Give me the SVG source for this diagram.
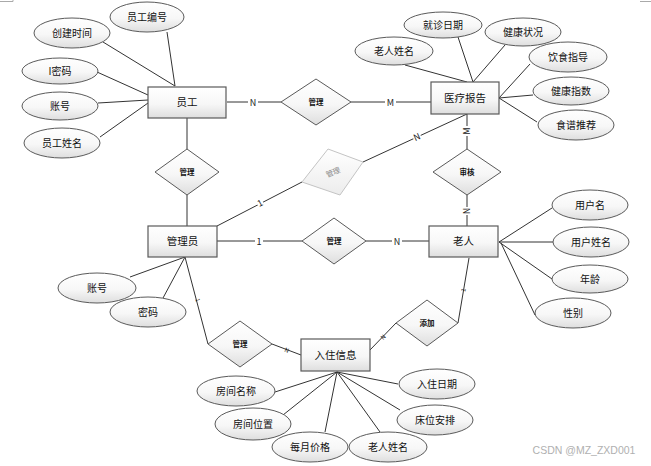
<svg xmlns="http://www.w3.org/2000/svg" width="651" height="466" viewBox="0 0 651 466">
<defs>
<linearGradient id="g" x1="0" y1="0" x2="0" y2="1">
<stop offset="0" stop-color="#ffffff"/>
<stop offset="0.55" stop-color="#f7f7f7"/>
<stop offset="1" stop-color="#dedede"/>
</linearGradient>
<linearGradient id="gl" x1="0" y1="0" x2="0" y2="1">
<stop offset="0" stop-color="#ffffff"/>
<stop offset="1" stop-color="#ececec"/>
</linearGradient>
</defs>
<style>
text{font-family:"Noto Sans CJK SC","Noto Sans",sans-serif;fill:#111;text-anchor:middle}
.ent rect{fill:url(#g);stroke:#5a5a5a;stroke-width:1.2}
.ent text{font-size:10.5px}
.att ellipse{fill:url(#g);stroke:#5a5a5a;stroke-width:1}
.att text{font-size:10px}
.rel polygon{fill:url(#g);stroke:#5a5a5a;stroke-width:1}
.rel text{font-size:7.5px;font-weight:bold}
#connectors line{stroke:#333;stroke-width:1}
.card{font-size:9px;fill:#222}
.bg{fill:#fff}
</style>
<rect width="651" height="466" fill="#fff"/>
<path d="M0 1.5H13V0M640 1.5H651" stroke="#aaa" fill="none" stroke-width="1"/>

<g id="connectors">
<line x1="167" y1="32" x2="175" y2="86"/>
<line x1="103" y1="42" x2="175" y2="86"/>
<line x1="97" y1="72" x2="148" y2="95"/>
<line x1="98" y1="103" x2="148" y2="100"/>
<line x1="100" y1="137" x2="148" y2="103"/>
<line x1="227" y1="102" x2="281" y2="102"/>
<line x1="351" y1="102" x2="431" y2="102"/>
<line x1="187" y1="118" x2="187" y2="149"/>
<line x1="187" y1="195" x2="187" y2="226"/>
<line x1="405" y1="65" x2="467" y2="82"/>
<line x1="458" y1="37" x2="473" y2="82"/>
<line x1="505" y1="45" x2="473" y2="82"/>
<line x1="530" y1="64" x2="499" y2="98"/>
<line x1="533" y1="95" x2="499" y2="98"/>
<line x1="537" y1="122" x2="499" y2="98"/>
<line x1="467" y1="114" x2="467" y2="149"/>
<line x1="467" y1="114" x2="363" y2="162"/>
<line x1="302" y1="182" x2="217" y2="226"/>
<line x1="217" y1="241" x2="302" y2="241"/>
<line x1="366" y1="241" x2="429" y2="241"/>
<line x1="467" y1="195" x2="467" y2="226"/>
<line x1="499" y1="242" x2="552" y2="208"/>
<line x1="499" y1="242" x2="553" y2="242"/>
<line x1="499" y1="242" x2="552" y2="279"/>
<line x1="501" y1="243" x2="535" y2="315"/>
<line x1="185" y1="257" x2="130" y2="277"/>
<line x1="185" y1="257" x2="163" y2="298"/>
<line x1="185" y1="257" x2="208" y2="344"/>
<line x1="272" y1="344" x2="301" y2="355"/>
<line x1="469" y1="258" x2="458" y2="323"/>
<line x1="396" y1="323" x2="370" y2="350"/>
<line x1="337" y1="372" x2="275" y2="392"/>
<line x1="337" y1="372" x2="283" y2="415"/>
<line x1="337" y1="372" x2="325" y2="432"/>
<line x1="337" y1="372" x2="380" y2="432"/>
<line x1="337" y1="372" x2="400" y2="410"/>
<line x1="337" y1="372" x2="398" y2="384"/>

<rect class="bg" x="248" y="96" width="10" height="12"/>
<text class="card" x="253" y="105.5">N</text>
<rect class="bg" x="385" y="96" width="11" height="12"/>
<text class="card" x="390.5" y="105.5" fill="#224a7a">M</text>
<g transform="translate(467,131) rotate(-90)"><rect class="bg" x="-5" y="-5" width="10" height="10"/><text class="card" x="0" y="3.2">M</text></g>
<g transform="translate(417,137) rotate(-24)"><rect class="bg" x="-4" y="-5" width="8" height="10"/><text class="card" x="0" y="3.2">N</text></g>
<g transform="translate(260,203) rotate(-27)"><rect class="bg" x="-3" y="-5" width="6" height="10"/><text class="card" x="0" y="3.2">1</text></g>
<rect class="bg" x="255" y="235" width="8" height="12"/>
<text class="card" x="259" y="244.5">1</text>
<rect class="bg" x="392" y="235" width="10" height="12"/>
<text class="card" x="397" y="244.5">N</text>
<g transform="translate(467,211) rotate(-90)"><rect class="bg" x="-4" y="-4" width="8" height="8"/><text class="card" x="0" y="3.2">N</text></g>
<g transform="translate(198,300) rotate(75)"><text class="card" x="0" y="2.5" style="font-size:6px">1</text></g>
<g transform="translate(287,350) rotate(21)"><text class="card" x="0" y="2.5" style="font-size:6px">N</text></g>
<g transform="translate(463,290) rotate(-80)"><text class="card" x="0" y="2.5" style="font-size:6px">1</text></g>
<g transform="translate(383,337) rotate(-46)"><text class="card" x="0" y="2.5" style="font-size:6px">N</text></g>
</g>

<g id="e_staff" class="ent"><rect x="148" y="87" width="78" height="31"/><text x="187" y="106">员工</text></g>
<g id="e_report" class="ent"><rect x="431" y="82" width="68" height="32"/><text x="465" y="101.5">医疗报告</text></g>
<g id="e_admin" class="ent"><rect x="148" y="226" width="69" height="31"/><text x="182.5" y="245">管理员</text></g>
<g id="e_elder" class="ent"><rect x="429" y="226" width="69" height="31"/><text x="463.5" y="245">老人</text></g>
<g id="e_checkin" class="ent"><rect x="301" y="339" width="69" height="32"/><text x="335.5" y="358.5">入住信息</text></g>

<g id="r_manage1" class="rel"><polygon points="316,79 351,102 316,125 281,102"/><text x="316" y="105">管理</text></g>
<g id="r_manage2" class="rel"><polygon points="187,149 219,172 187,195 155,172"/><text x="187" y="175">管理</text></g>
<g id="r_manage3" class="rel"><polygon points="334,218 366,241 334,264 302,241"/><text x="334" y="244">管理</text></g>
<g id="r_audit" class="rel"><polygon points="467,149 501,172 467,195 433,172"/><text x="467" y="175">审核</text></g>
<g id="r_add" class="rel"><polygon points="427,300 458,323 427,346 396,323"/><text x="427" y="326">添加</text></g>
<g id="r_manage4" class="rel"><polygon points="240,321 272,344 240,367 208,344"/><text x="240" y="347">管理</text></g>
<g id="r_manage_grey"><polygon points="328,149 363,162 340,195 302,182" fill="url(#gl)" stroke="#c4c4c4" stroke-width="1"/><text x="333" y="175" transform="rotate(-22 333 172)" style="font-size:7.5px;fill:#8a8a8a">管理</text></g>

<g id="a_staff_no" class="att"><ellipse cx="147" cy="17" rx="37" ry="15"/><text x="147" y="21">员工编号</text></g>
<g id="a_create_time" class="att"><ellipse cx="72" cy="33" rx="38" ry="15"/><text x="72" y="37">创建时间</text></g>
<g id="a_pwd1" class="att"><ellipse cx="60" cy="71" rx="38" ry="13"/><text x="60" y="75">I密码</text></g>
<g id="a_acc1" class="att"><ellipse cx="60" cy="106" rx="38" ry="14"/><text x="60" y="110">账号</text></g>
<g id="a_staff_name" class="att"><ellipse cx="62" cy="143" rx="38" ry="15"/><text x="62" y="147">员工姓名</text></g>

<g id="a_elder_name1" class="att"><ellipse cx="394" cy="51" rx="39" ry="14"/><text x="394" y="55">老人姓名</text></g>
<g id="a_visit_date" class="att"><ellipse cx="443" cy="25" rx="39" ry="13"/><text x="443" y="29">就诊日期</text></g>
<g id="a_health" class="att"><ellipse cx="523" cy="32" rx="38" ry="14"/><text x="523" y="36">健康状况</text></g>
<g id="a_diet" class="att"><ellipse cx="568" cy="57" rx="39" ry="15"/><text x="568" y="61">饮食指导</text></g>
<g id="a_index" class="att"><ellipse cx="571" cy="91" rx="38" ry="14"/><text x="571" y="95">健康指数</text></g>
<g id="a_recipe" class="att"><ellipse cx="576" cy="125" rx="38" ry="15"/><text x="576" y="129">食谱推荐</text></g>

<g id="a_username" class="att"><ellipse cx="590" cy="205" rx="38" ry="15"/><text x="590" y="209">用户名</text></g>
<g id="a_user_realname" class="att"><ellipse cx="591" cy="242" rx="38" ry="15"/><text x="591" y="246">用户姓名</text></g>
<g id="a_age" class="att"><ellipse cx="590" cy="279" rx="38" ry="14"/><text x="590" y="283">年龄</text></g>
<g id="a_gender" class="att"><ellipse cx="573" cy="313" rx="38" ry="15"/><text x="573" y="317">性别</text></g>

<g id="a_acc2" class="att"><ellipse cx="97" cy="288" rx="39" ry="15"/><text x="97" y="292">账号</text></g>
<g id="a_pwd2" class="att"><ellipse cx="148" cy="312" rx="38" ry="15"/><text x="148" y="316">密码</text></g>

<g id="a_room_name" class="att"><ellipse cx="236" cy="391" rx="39" ry="15"/><text x="236" y="395">房间名称</text></g>
<g id="a_room_loc" class="att"><ellipse cx="253" cy="424" rx="38" ry="16"/><text x="253" y="428">房间位置</text></g>
<g id="a_price" class="att"><ellipse cx="310" cy="447" rx="38" ry="15"/><text x="310" y="451">每月价格</text></g>
<g id="a_elder_name2" class="att"><ellipse cx="388" cy="447" rx="39" ry="15"/><text x="388" y="451">老人姓名</text></g>
<g id="a_bed" class="att"><ellipse cx="435" cy="420" rx="38" ry="15"/><text x="435" y="424">床位安排</text></g>
<g id="a_checkin_date" class="att"><ellipse cx="437" cy="384" rx="38" ry="15"/><text x="437" y="388">入住日期</text></g>

<text x="584" y="454" style="font-size:10.5px;fill:#b0b0b0;font-family:'Liberation Sans',sans-serif">CSDN @MZ_ZXD001</text>
</svg>
